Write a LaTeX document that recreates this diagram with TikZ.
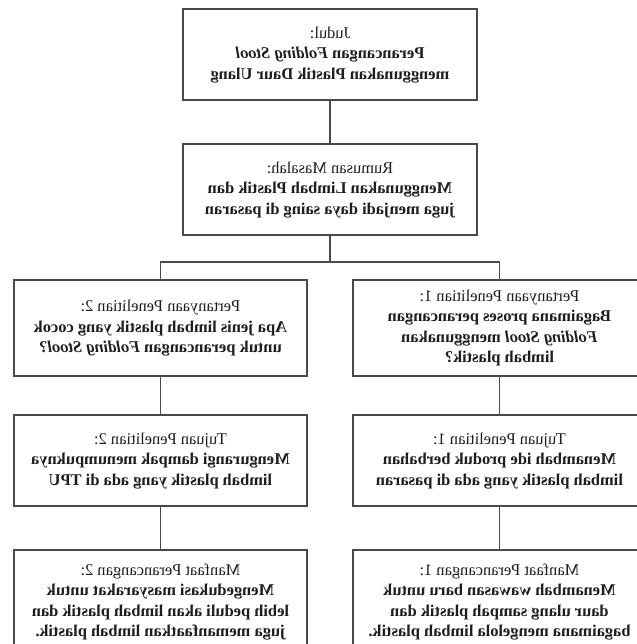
\documentclass[tikz,border=0pt]{standalone}
\usepackage{fontspec}
\setmainfont{Liberation Serif}
\definecolor{boxline}{HTML}{4A4A4A}
\definecolor{txt}{HTML}{1E1E1E}
\newcommand{\mirtext}[2]{\reflectbox{\begin{tabular}{@{}c@{}}#1\\\bfseries\begin{tabular}{@{}c@{}}#2\end{tabular}\end{tabular}}}
\tikzset{
  flowbox/.style={draw=boxline, line width=1.1pt, rectangle, minimum width=293bp, inner sep=0pt, text=txt,
    font=\fontsize{16.5}{20.5}\selectfont},
  link/.style={draw=boxline, line width=1.1pt}
}
\begin{document}
\begin{tikzpicture}[x=1bp,y=-1bp]
\useasboundingbox (0,0) rectangle (637,644);
\clip (0,0) rectangle (637,644);
\fill[white] (0,0) rectangle (637,644);
\setlength{\tabcolsep}{0pt}
\renewcommand{\arraystretch}{1.0}
\node[flowbox, minimum height=91bp, minimum width=294bp] (judul) at (330,54.5)
  {\mirtext{Judul:}{Perancangan \textit{Folding Stool}\\menggunakan Plastik Daur Ulang}};
\node[flowbox, minimum height=91bp, minimum width=294bp] (rumusan) at (330,189.5)
  {\mirtext{Rumusan Masalah:}{Menggunakan Limbah Plastik dan\\juga menjadi daya saing di pasaran}};
\node[flowbox, minimum height=96bp] (q2) at (160.5,328)
  {\raisebox{3bp}{\mirtext{Pertanyaan Penelitian 2:}{Apa jenis limbah plastik yang cocok\\untuk perancangan \textit{Folding Stool}?}}};
\node[flowbox, minimum height=96bp] (q1) at (499.5,328)
  {\mirtext{Pertanyaan Penelitian 1:}{Bagaimana proses perancangan\\\textit{Folding Stool} menggunakan\\limbah plastik?}};
\node[flowbox, minimum height=91bp] (t2) at (160.5,460.5)
  {\mirtext{Tujuan Penelitian 2:}{Mengurangi dampak menumpuknya\\limbah plastik yang ada di TPU}};
\node[flowbox, minimum height=91bp] (t1) at (499.5,460.5)
  {\mirtext{Tujuan Penelitian 1:}{Menambah ide produk berbahan\\limbah plastik yang ada di pasaran}};
\node[flowbox, minimum height=104bp] (m2) at (160.5,602)
  {\raisebox{4bp}{\mirtext{Manfaat Perancangan 2:}{Mengedukasi masyarakat untuk\\lebih peduli akan limbah plastik dan\\juga memanfaatkan limbah plastik.}}};
\node[flowbox, minimum height=104bp] (m1) at (499.5,602)
  {\raisebox{4bp}{\mirtext{Manfaat Perancangan 1:}{Menambah wawasan baru untuk\\daur ulang sampah plastik dan\\bagaimana mengelola limbah plastik.}}};
\coordinate (br) at (330,262);
\draw[link] (judul.south) -- (rumusan.north);
\draw[link] (rumusan.south) -- (br);
\draw[link] (q2.north) |- (br) -| (q1.north);
\draw[link] (q2.south) -- (t2.north);
\draw[link] (q1.south) -- (t1.north);
\draw[link] (t2.south) -- (m2.north);
\draw[link] (t1.south) -- (m1.north);
\end{tikzpicture}
\end{document}
